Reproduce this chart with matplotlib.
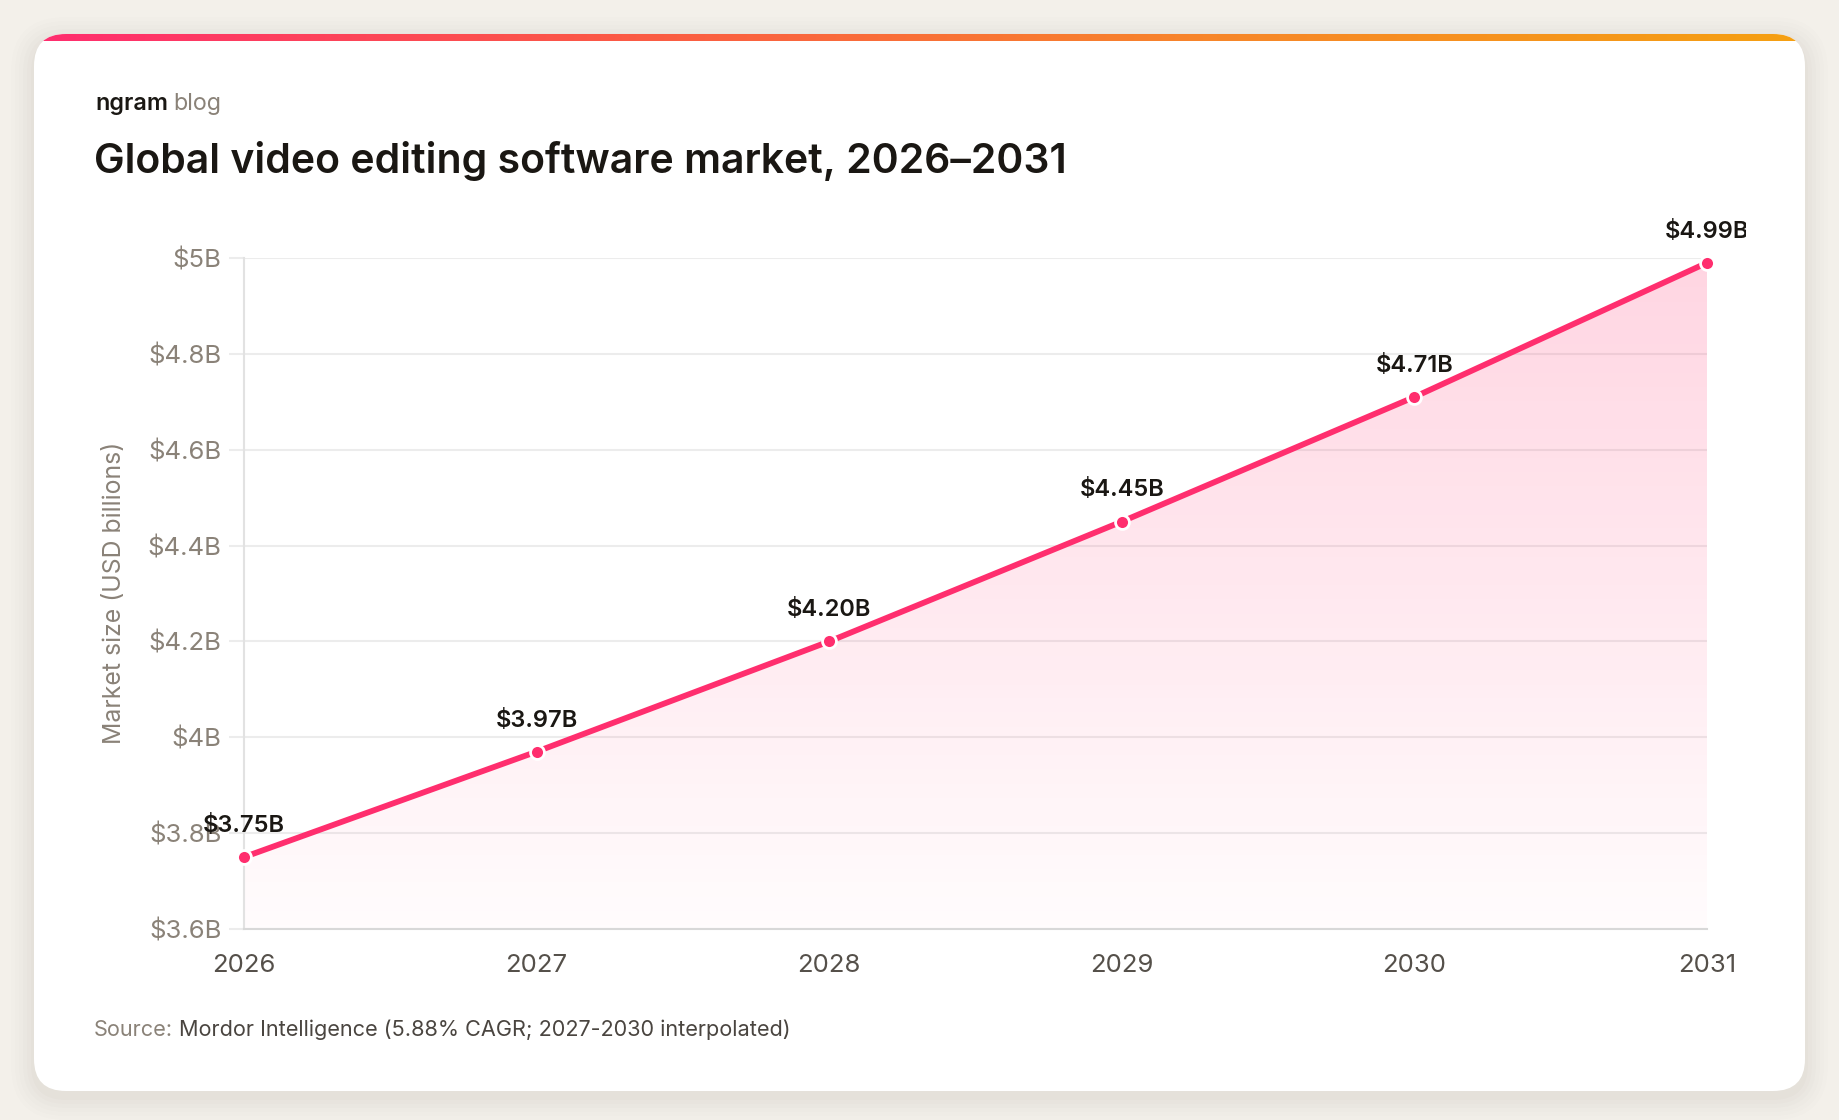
import numpy as np
import matplotlib.pyplot as plt
from matplotlib.patches import FancyBboxPatch, Polygon
from matplotlib.colors import LinearSegmentedColormap
from matplotlib.transforms import Bbox

plt.rcParams['font.family'] = ['Inter', 'DejaVu Sans']

# data
years = [2026, 2027, 2028, 2029, 2030, 2031]
market = [3.75, 3.97, 4.20, 4.45, 4.71, 4.99]
value_labels = ['$3.75B', '$3.97B', '$4.20B', '$4.45B', '$4.71B', '$4.99B']
y_ticks = [3.6, 3.8, 4.0, 4.2, 4.4, 4.6, 4.8, 5.0]
y_ticklabels = ['$3.6B', '$3.8B', '$4B', '$4.2B', '$4.4B', '$4.6B', '$4.8B', '$5B']

PINK = '#ff2e6e'
GREY = '#8a8278'
DARK = '#1a1713'

W, H = 1840, 1120
fig = plt.figure(figsize=(W / 100, H / 100), dpi=100)
fig.patch.set_facecolor('#f3f0ea')

# background layer in pixel coords
bg = fig.add_axes([0, 0, 1, 1])
bg.set_xlim(0, W)
bg.set_ylim(H, 0)
bg.axis('off')

# soft shadow
for i, a in enumerate([0.018, 0.016, 0.014, 0.012, 0.010, 0.008]):
    grow = 3 + i * 4
    sh = FancyBboxPatch((34 - grow, 34 - grow + 6), 1771 + 2 * grow, 1057 + 2 * grow,
                        boxstyle='round,pad=0,rounding_size=%d' % (32 + grow),
                        facecolor='#6b5a40', edgecolor='none', alpha=a)
    bg.add_patch(sh)

card = FancyBboxPatch((34, 34), 1771, 1057, boxstyle='round,pad=0,rounding_size=32',
                      facecolor='white', edgecolor='none')
bg.add_patch(card)

# gradient strip along the top of the card
strip_cmap = LinearSegmentedColormap.from_list('strip', ['#ff2d6f', '#fb5a45', '#f7862a', '#f5a012'])
im = bg.imshow(np.linspace(0, 1, 512).reshape(1, -1), cmap=strip_cmap,
               extent=(34, 1805, 41, 34), aspect='auto', zorder=2)
im.set_clip_path(card)
bg.set_xlim(0, W)
bg.set_ylim(H, 0)

# header texts
t1 = bg.text(95, 110, 'ngram', fontsize=16.8, fontweight='semibold', color=DARK, va='baseline')
bg.annotate('blog', xy=(1, 0), xycoords=t1, xytext=(4, 0), textcoords='offset points',
            fontsize=16.8, color=GREY, va='bottom')
bg.text(94, 173, 'Global video editing software market, 2026\u20132031', fontsize=29.5,
        fontweight='semibold', color=DARK, va='baseline')

# y axis title
bg.text(115, 593, 'Market size (USD billions)', rotation=90, fontsize=17.9, color=GREY,
        ha='center', va='center')

# source line
s1 = bg.text(94, 1036, 'Source:', fontsize=15.6, color=GREY, va='baseline')
bg.annotate('Mordor Intelligence (5.88% CAGR; 2027-2030 interpolated)', xy=(1, 0), xycoords=s1,
            xytext=(4, 0), textcoords='offset points', fontsize=15.6, color='#4a4540', va='bottom')

# chart
ax = fig.add_axes([244 / W, 1 - 929 / H, (1707 - 244) / W, (929 - 258) / H])
ax.set_facecolor('none')
ax.set_xlim(2026, 2031)
ax.set_ylim(3.6, 5.0)

# gradient area fill under the line
fill_cmap = LinearSegmentedColormap.from_list('fill', [(1, 0.18, 0.43, 0.015), (1, 0.18, 0.43, 0.2)])
grad = ax.imshow(np.linspace(0, 1, 256).reshape(-1, 1), cmap=fill_cmap, origin='lower',
                 extent=(2026, 2031, 3.6, 5.0), aspect='auto', zorder=1)
poly = Polygon(list(zip(years, market)) + [(2031, 3.6), (2026, 3.6)], closed=True,
               facecolor='none', edgecolor='none', transform=ax.transData)
ax.add_patch(poly)
grad.set_clip_path(poly)

ax.plot(years, market, color=PINK, lw=4.2, zorder=4, clip_on=False, solid_capstyle='round')
ax.plot(years, market, 'o', ms=10, mfc=PINK, mec='white', mew=2, zorder=5, clip_on=False)

# labels; the last one is cut at the right like in the source chart
clip = Bbox.from_extents(0, 0, 1746, H)
for x, v, lab in zip(years, market, value_labels):
    t = ax.annotate(lab, xy=(x, v), xytext=(0, 14.5), textcoords='offset points',
                    ha='center', va='bottom', fontsize=17, fontweight='semibold',
                    color=DARK, zorder=6, annotation_clip=False)
    t.set_clip_on(True)
    t.set_clip_box(clip)

ax.set_yticks(y_ticks)
ax.set_yticklabels(y_ticklabels)
ax.set_xticks(years)
ax.set_xticklabels([str(y) for y in years])
ax.grid(axis='y', color='#ececec', lw=1.5, zorder=0)
ax.set_axisbelow(True)
ax.tick_params(axis='y', length=11, width=1.5, color='#ececec', pad=5, labelsize=18.5,
               labelcolor=GREY)
ax.tick_params(axis='x', length=0, pad=18, labelsize=18.5, labelcolor='#55504a')
for side in ['top', 'right']:
    ax.spines[side].set_visible(False)
ax.spines['left'].set_color('#e2e2e2')
ax.spines['left'].set_linewidth(1.5)
ax.spines['bottom'].set_color('#d8d8d8')
ax.spines['bottom'].set_linewidth(1.5)

fig.savefig('out.png', dpi=100, facecolor=fig.get_facecolor())
